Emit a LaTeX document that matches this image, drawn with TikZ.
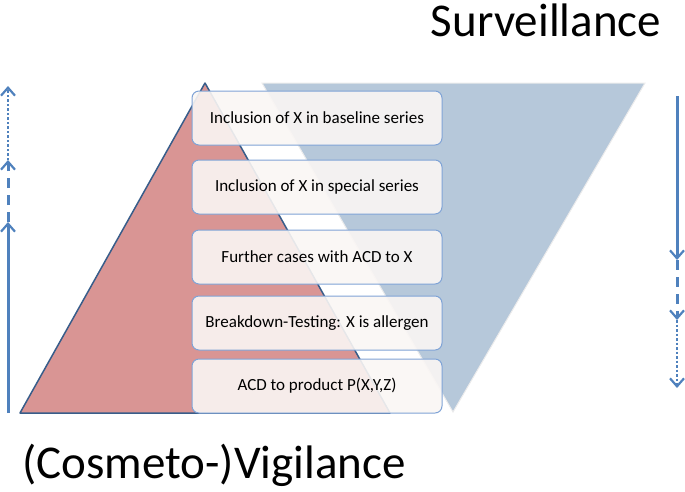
\documentclass[tikz,border=0pt]{standalone}
\usepackage{fontspec}
\setmainfont{Carlito}
\usetikzlibrary{arrows.meta}
\definecolor{arr}{HTML}{4F81BD}
\definecolor{redf}{HTML}{D99594}
\definecolor{bluef}{HTML}{B4C6D9}
\definecolor{boxf}{HTML}{FAF6F4}
\definecolor{boxd}{HTML}{7FA3D6}
\definecolor{edge}{HTML}{385D8A}
\begin{document}
\begin{tikzpicture}[x=1pt,y=-1pt,
  box/.style={draw=boxd,fill=boxf,fill opacity=0.9,text opacity=1,rounded corners=7pt,minimum width=250pt,minimum height=54pt,font=\fontsize{17}{20}\selectfont,line width=1pt},
  ar/.style={draw=arr,line width=3pt,-{Straight Barb[length=8pt,width=14pt,line width=2.2pt]}}]
\useasboundingbox (0,0) rectangle (685,491);
\fill[redf,draw=edge,line width=1.5pt,line join=round] (20,413) -- (205,83) -- (390,413) -- cycle;
\fill[bluef,draw=white!85!gray,line width=1pt,fill opacity=0.97] (262,83) -- (645,83) -- (453,412) -- cycle;
\node[box] (b1) at (317,118) {Inclusion of X in baseline series};
\node[box] (b2) at (317,187) {Inclusion of X in special series};
\node[box] (b3) at (317,257) {Further cases with ACD to X};
\node[box] (b4) at (317,323) {Breakdown-Testing: X is allergen};
\node[box] (b5) at (317,386) {ACD to product P(X,Y,Z)};
\node[font=\fontsize{47}{52}\selectfont] (sv) at (546,20) {Surveillance};
\node[font=\fontsize{47}{52}\selectfont] (cv) at (214,465) {(Cosmeto-)Vigilance};
\coordinate (l0) at (8,413); \coordinate (l1) at (8,222);
\coordinate (l2) at (8,160); \coordinate (l3) at (8,86);
\draw[ar] (l0) -- (l1);
\draw[ar,dash pattern=on 10pt off 7pt] (l1) -- (l2);
\draw[ar,line width=2.6pt,dash pattern=on 2.5pt off 2pt] (l2) -- (l3);
\coordinate (r0) at (677,96); \coordinate (r1) at (677,260);
\coordinate (r2) at (677,320); \coordinate (r3) at (677,388);
\draw[ar] (r0) -- (r1);
\draw[ar,dash pattern=on 10pt off 7pt] (r1) -- (r2);
\draw[ar,line width=2.6pt,dash pattern=on 2.5pt off 2pt] (r2) -- (r3);
\end{tikzpicture}
\end{document}
